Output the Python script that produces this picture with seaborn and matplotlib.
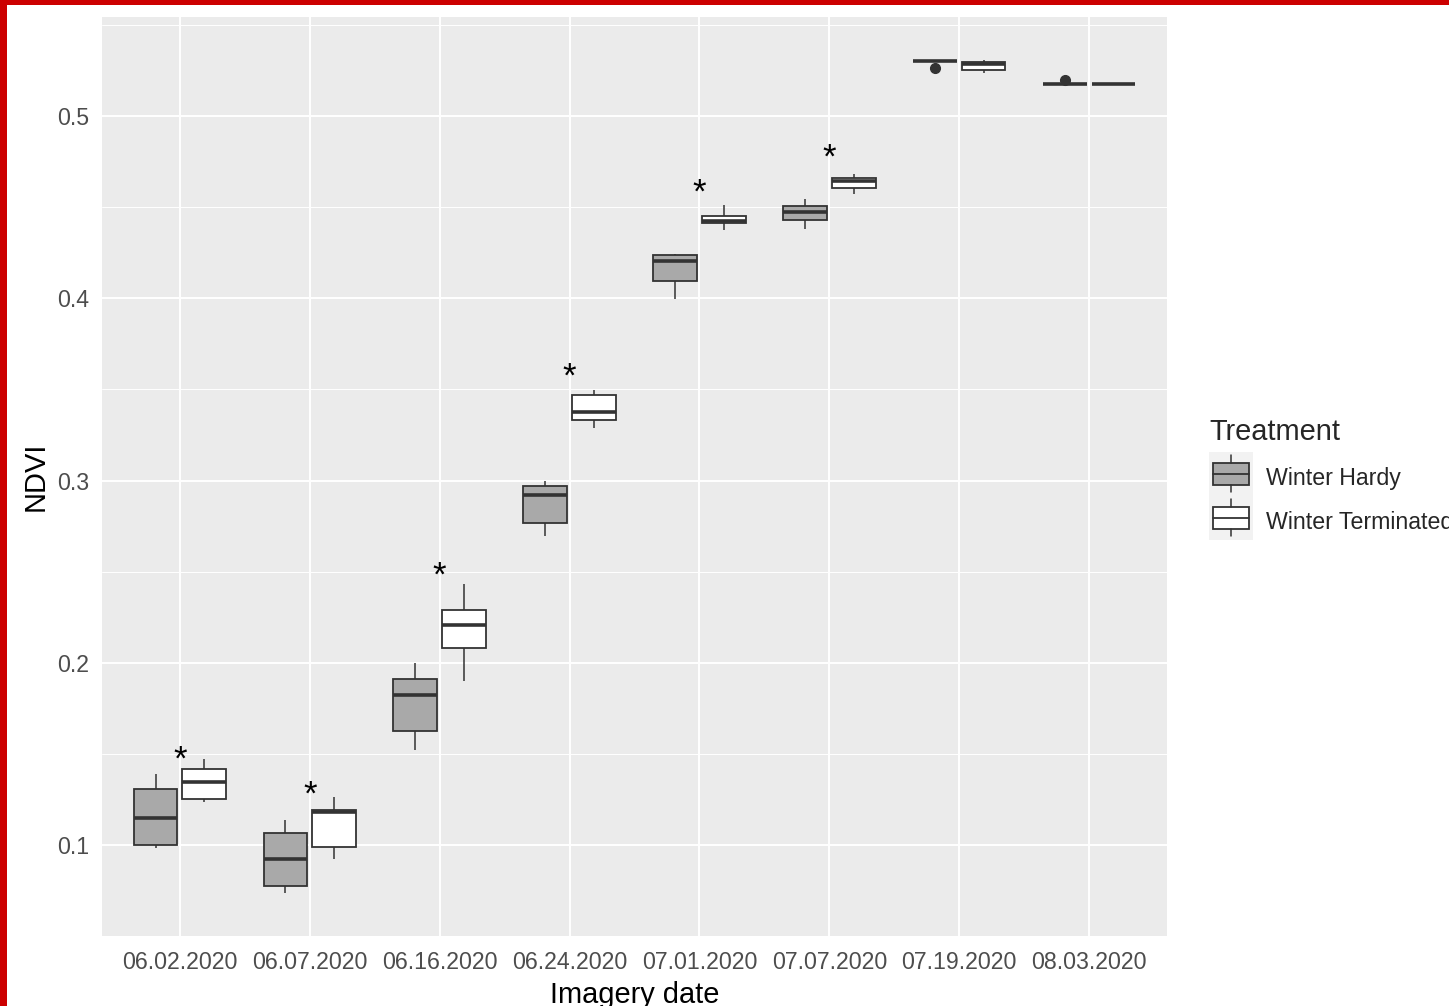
import numpy as np
import pandas as pd
import matplotlib
matplotlib.use("Agg")
import matplotlib.pyplot as plt
import matplotlib.transforms as mtransforms
from matplotlib.patches import Rectangle, Patch
from matplotlib.lines import Line2D
from matplotlib.legend_handler import HandlerBase
import seaborn as sns

# Imagery dates (x categories)
dates = ["06.02.2020", "06.07.2020", "06.16.2020", "06.24.2020",
         "07.01.2020", "07.07.2020", "07.19.2020", "08.03.2020"]

treatments = ["Winter Hardy", "Winter Terminated"]

# Plot-level NDVI per date, Winter Hardy
hardy_ndvi = [
    [0.0985, 0.1002, 0.1147, 0.1306, 0.1388],
    [0.0735, 0.0775, 0.0923, 0.1064, 0.1137],
    [0.1522, 0.1625, 0.1822, 0.1910, 0.1998],
    [0.2698, 0.2767, 0.2918, 0.2969, 0.2996],
    [0.3998, 0.4097, 0.4203, 0.4235, 0.4242],
    [0.4381, 0.4430, 0.4474, 0.4507, 0.4544],
    [0.5264, 0.5302, 0.5302, 0.5302, 0.5302],
    [0.5176, 0.5176, 0.5176, 0.5176, 0.5199],
]

# Plot-level NDVI per date, Winter Terminated
terminated_ndvi = [
    [0.1234, 0.1251, 0.1346, 0.1419, 0.1471],
    [0.0921, 0.0991, 0.1183, 0.1190, 0.1262],
    [0.1898, 0.2082, 0.2209, 0.2291, 0.2434],
    [0.3290, 0.3330, 0.3374, 0.3467, 0.3495],
    [0.4374, 0.4412, 0.4423, 0.4453, 0.4513],
    [0.4570, 0.4608, 0.4643, 0.4661, 0.4680],
    [0.5235, 0.5253, 0.5286, 0.5298, 0.5306],
    [0.5176, 0.5176, 0.5176, 0.5176, 0.5176],
]

# Significance markers (date, height of the marker)
signif_dates = ["06.02.2020", "06.07.2020", "06.16.2020", "06.24.2020", "07.01.2020", "07.07.2020"]
signif_y = [0.1513, 0.1319, 0.2522, 0.3615, 0.4626, 0.4819]

rows = []
for d, h, t in zip(dates, hardy_ndvi, terminated_ndvi):
    for v in h:
        rows.append((d, "Winter Hardy", v))
    for v in t:
        rows.append((d, "Winter Terminated", v))
df = pd.DataFrame(rows, columns=["date", "treatment", "ndvi"])

fills = {"Winter Hardy": "#A9A9A9", "Winter Terminated": "#FFFFFF"}
edge = "#333333"

sns.set_theme(style="darkgrid")
plt.rcParams["font.family"] = ["Liberation Sans", "DejaVu Sans"]

W, H = 1449, 1006
fig = plt.figure(figsize=(W / 100, H / 100), dpi=100)
fig.patch.set_facecolor("white")
L, R, T, B = 102, 1167, 17, 936
ax = fig.add_axes([L / W, 1 - B / H, (R - L) / W, (B - T) / H])
ax.set_facecolor("#EBEBEB")

sns.boxplot(
    data=df, x="date", y="ndvi", hue="treatment", order=dates, hue_order=treatments,
    palette=fills, saturation=1, linecolor=edge, linewidth=1.3,
    width=0.75, gap=0.1, fliersize=7, legend=False, ax=ax,
    medianprops={"linewidth": 2.6, "color": edge},
    whiskerprops={"linewidth": 1.1, "color": edge},
    capprops={"visible": False},
    flierprops={"marker": "o", "markerfacecolor": edge, "markeredgecolor": edge},
)

# significance asterisks centred on the date
star_fs = 25
star_tr = mtransforms.offset_copy(ax.transData, fig=fig, y=-0.52 * star_fs, units="points")
for d, y in zip(signif_dates, signif_y):
    ax.text(dates.index(d), y, "*", fontsize=star_fs, ha="center", va="baseline",
            color="black", transform=star_tr)

# axes and grid in the grey theme
ax.set_xlim(-0.6, len(dates) - 0.4)
ax.set_ylim(0.05, 0.5544)
ax.set_yticks([0.1, 0.2, 0.3, 0.4, 0.5])
ax.set_yticklabels(["0.1", "0.2", "0.3", "0.4", "0.5"])
ax.set_yticks([0.05, 0.15, 0.25, 0.35, 0.45, 0.55], minor=True)
ax.grid(True, which="major", color="white", linewidth=1.4)
ax.grid(True, which="minor", axis="y", color="white", linewidth=0.7)
ax.grid(False, which="minor", axis="x")
ax.set_axisbelow(True)
for s in ax.spines.values():
    s.set_visible(False)

ax.tick_params(axis="both", which="major", length=5, width=1.0, color=edge,
               labelsize=16.7, labelcolor="#4D4D4D")
ax.tick_params(axis="x", pad=5.5)
ax.tick_params(axis="y", pad=4.3)
ax.tick_params(which="minor", length=0)

ax.set_xlabel("Imagery date", fontsize=20.9, color="black", va="center")
ax.set_ylabel("NDVI", fontsize=20.9, color="black", va="center")
ax.xaxis.set_label_coords(0.5, -(995 - B) / (B - T))
ax.yaxis.set_label_coords(-(L - 36) / (R - L), 0.5)


class BoxKey(HandlerBase):
    """Legend key drawn as a small boxplot glyph on a light panel."""
    lift = 2.9  # points

    def create_artists(self, legend, orig_handle, xdescent, ydescent, width, height, fontsize, trans):
        x0, y0 = -xdescent, -ydescent + self.lift
        bg = Rectangle((x0, y0), width, height, facecolor="#F2F2F2", edgecolor="none", transform=trans)
        box = Rectangle((x0 + 0.1 * width, y0 + 0.25 * height), 0.8 * width, 0.5 * height,
                        facecolor=orig_handle.get_facecolor(), edgecolor=edge, linewidth=1.3,
                        transform=trans)
        med = Line2D([x0 + 0.1 * width, x0 + 0.9 * width], [y0 + 0.5 * height] * 2,
                     color=edge, linewidth=1.3, transform=trans)
        w_lo = Line2D([x0 + 0.5 * width] * 2, [y0 + 0.08 * height, y0 + 0.25 * height],
                      color=edge, linewidth=1.1, transform=trans)
        w_hi = Line2D([x0 + 0.5 * width] * 2, [y0 + 0.75 * height, y0 + 0.92 * height],
                      color=edge, linewidth=1.1, transform=trans)
        return [bg, box, med, w_lo, w_hi]


handles = [Patch(facecolor=fills[t]) for t in treatments]
leg = fig.legend(
    handles, treatments, title="Treatment", loc="upper left",
    bbox_to_anchor=(1209 / W, 1 - 418 / H), frameon=False,
    fontsize=16.7, title_fontsize=20.9, handlelength=1.9, handleheight=2.54,
    labelspacing=0.0, handletextpad=0.56, borderpad=0.0, borderaxespad=0.0,
    handler_map={Patch: BoxKey()}, alignment="left",
)
# space between the legend title and the keys
leg._legend_box.sep = 7.2

# red frame along the top and left edges
fig.patches.append(Rectangle((0, 0), 7.3 / W, 1, transform=fig.transFigure,
                             facecolor="#CC0000", edgecolor="none", zorder=10))
fig.patches.append(Rectangle((0, 1 - 5 / H), 1, 5 / H, transform=fig.transFigure,
                             facecolor="#CC0000", edgecolor="none", zorder=10))

fig.savefig("out.png", dpi=100)
